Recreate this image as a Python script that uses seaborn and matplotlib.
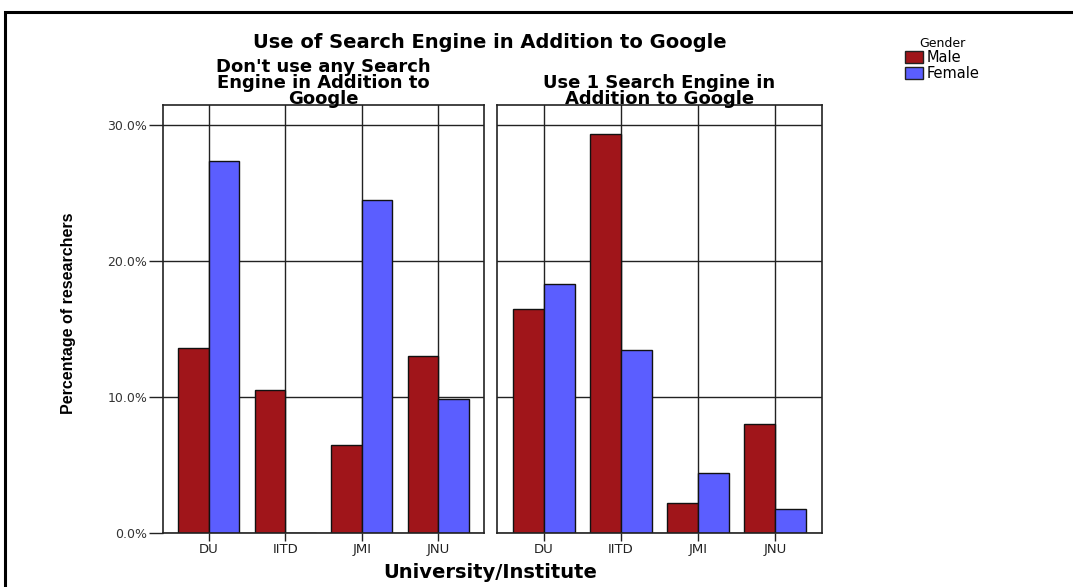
import matplotlib
matplotlib.use("Agg")
import matplotlib.pyplot as plt
from matplotlib.patches import Rectangle, Patch
from matplotlib.ticker import FuncFormatter
import pandas as pd
import seaborn as sns

# data
universities = ["DU", "IITD", "JMI", "JNU"]
genders = ["Male", "Female"]
panel_titles = ["Don't use any Search\nEngine in Addition to\nGoogle",
                "Use 1 Search Engine in\nAddition to Google"]
none_male = [13.6, 10.5, 6.5, 13.0]
none_female = [27.4, 0.0, 24.5, 9.9]
one_male = [16.5, 29.4, 2.2, 8.0]
one_female = [18.3, 13.5, 4.4, 1.8]

colors = {"Male": "#a0151a", "Female": "#5b5eff"}

sns.set_theme(style="white")
plt.rcParams['font.family'] = ['DejaVu Sans']
plt.rcParams['text.color'] = 'black'


def make_df(male, female):
    rows = []
    for u, m, f in zip(universities, male, female):
        rows.append({"uni": u, "Gender": "Male", "pct": m})
        rows.append({"uni": u, "Gender": "Female", "pct": f})
    return pd.DataFrame(rows)


panels = [make_df(none_male, none_female), make_df(one_male, one_female)]

fig = plt.figure(figsize=(10.73, 5.87), dpi=100)
ax_pos = [[0.1516, 0.092, 0.2997, 0.729], [0.4635, 0.092, 0.3023, 0.729]]

for i, (df, title) in enumerate(zip(panels, panel_titles)):
    ax = fig.add_axes(ax_pos[i])
    sns.barplot(data=df, x="uni", y="pct", hue="Gender", hue_order=genders,
                order=universities, palette=colors, width=0.8, saturation=1,
                edgecolor="#111111", linewidth=1.0, ax=ax, legend=False)
    # grid lines on both axes, behind the bars
    ax.set_axisbelow(True)
    ax.xaxis.grid(True, color="#222222", linewidth=1.0)
    ax.yaxis.grid(True, color="#222222", linewidth=1.0)
    ax.set_xlim(-0.6, 3.6)
    ax.set_ylim(0, 31.5)
    ax.set_yticks([0, 10, 20, 30])
    ax.set_xlabel("")
    ax.set_ylabel("")
    for s in ax.spines.values():
        s.set_color("#222222")
        s.set_linewidth(1.2)
    ax.tick_params(axis="x", bottom=True, direction="out", length=6, width=1,
                   color="#222222", labelsize=9.5, labelcolor="#222222", pad=1)
    if i == 0:
        ax.yaxis.set_major_formatter(FuncFormatter(lambda v, p: f"{v:.1f}%"))
        ax.tick_params(axis="y", left=True, direction="out", length=10, width=1,
                       color="#222222", labelsize=9, labelcolor="#333333", pad=1)
    else:
        ax.set_yticklabels([])
        ax.tick_params(axis="y", left=False)
    ax.set_title(title, fontsize=13, fontweight="bold", linespacing=0.84,
                 pad=1)

fig.text(0.4565, 0.928, "Use of Search Engine in Addition to Google",
         ha="center", va="center", fontsize=14, fontweight="bold")
fig.text(0.4565, 0.024, "University/Institute", ha="center", va="center",
         fontsize=14, fontweight="bold")
fig.text(0.064, 0.466, "Percentage of researchers", rotation=90,
         ha="center", va="center", fontsize=11.5, fontweight="bold",
         family=['Liberation Sans'])

handles = [Patch(facecolor=colors[g], edgecolor="#222222", linewidth=1.0)
           for g in genders]
leg = fig.legend(handles, genders, title="Gender", loc="upper left",
                 bbox_to_anchor=(0.834, 0.955), frameon=False, fontsize=10.5,
                 title_fontsize=9, handlelength=1.2, handleheight=0.9,
                 handletextpad=0.3, labelspacing=0.05, borderpad=0.2)
leg._legend_box.align = "center"

# outer frame like the exported picture
fig.patches.append(Rectangle((5 / 1073, -0.05), 1.1, 0.05 + (587 - 12) / 587,
                             transform=fig.transFigure, fill=False,
                             edgecolor="black", linewidth=2.2))

fig.savefig("out.png", dpi=100, facecolor="white")
